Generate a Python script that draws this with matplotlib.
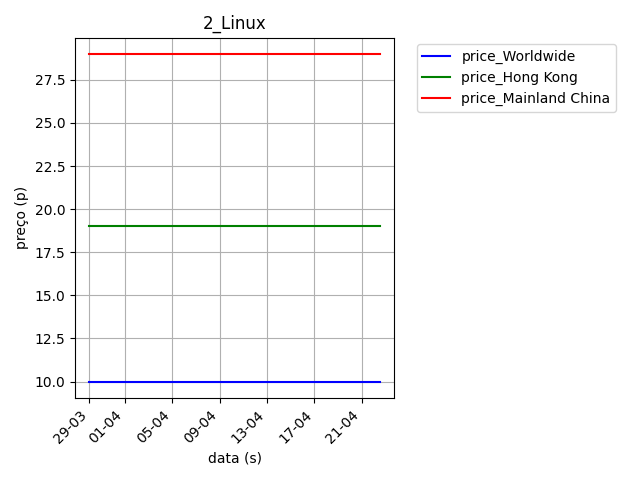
import matplotlib
matplotlib.use("Agg")
import matplotlib.pyplot as plt
import matplotlib.dates as mdates
import pandas as pd

dates = pd.to_datetime(["2023-03-29 00:00", "2023-04-01 00:00", "2023-04-05 00:00", "2023-04-09 00:00",
                        "2023-04-13 00:00", "2023-04-17 00:00", "2023-04-21 00:00", "2023-04-22 12:00"],
                       format="%Y-%m-%d %H:%M")
price_worldwide = [10, 10, 10, 10, 10, 10, 10, 10]
price_hong_kong = [19, 19, 19, 19, 19, 19, 19, 19]
price_mainland_china = [29, 29, 29, 29, 29, 29, 29, 29]

fig = plt.figure(figsize=(6.4, 4.8), dpi=100)
ax = fig.add_axes([75/640, 1-398/480, (394-75)/640, (398-37.5)/480])
ax.plot(dates, price_worldwide, color="blue", label="price_Worldwide")
ax.plot(dates, price_hong_kong, color="green", label="price_Hong Kong")
ax.plot(dates, price_mainland_china, color="red", label="price_Mainland China")
ax.xaxis.set_major_locator(mdates.DayLocator(bymonthday=range(1, 32, 4)))
ax.xaxis.set_major_formatter(mdates.DateFormatter("%d-%m"))
plt.setp(ax.get_xticklabels(), rotation=45, ha="right")
ax.grid(True)
ax.set_title("2_Linux")
ax.set_xlabel("data (s)")
ax.set_ylabel("preço (p)")
ax.legend(loc="upper left", bbox_to_anchor=(1.05, 1))
fig.savefig("out.png")
